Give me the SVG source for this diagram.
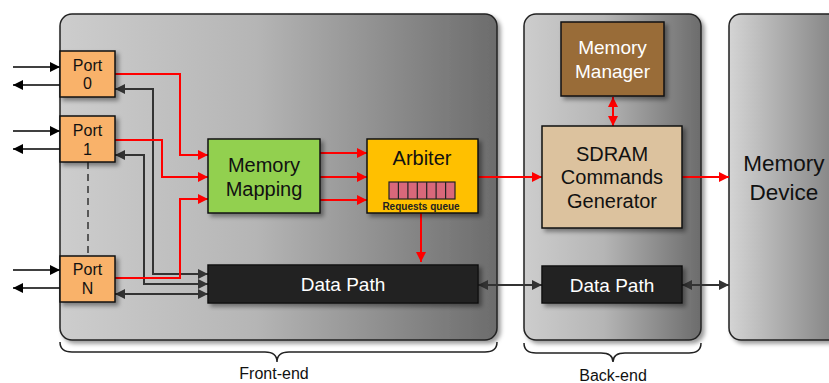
<svg xmlns="http://www.w3.org/2000/svg" width="829" height="383" viewBox="0 0 829 383">
<defs>
<linearGradient id="gp" x1="0" y1="0" x2="1" y2="0">
<stop offset="0" stop-color="#cdcdcd"/>
<stop offset="0.45" stop-color="#b5b5b5"/>
<stop offset="1" stop-color="#6c6c6c"/>
</linearGradient>
<linearGradient id="gd" x1="0" y1="0" x2="1" y2="0">
<stop offset="0" stop-color="#d4d4d4"/>
<stop offset="1" stop-color="#7a7a7a"/>
</linearGradient>
<filter id="sh" x="-20%" y="-20%" width="140%" height="140%">
<feDropShadow dx="3" dy="3" stdDeviation="2" flood-color="#000" flood-opacity="0.4"/>
</filter>
<marker id="ar" viewBox="0 0 10 10" refX="10" refY="5" markerWidth="10" markerHeight="10" markerUnits="userSpaceOnUse" orient="auto-start-reverse"><path d="M0,0 L10,5 L0,10 z" fill="#ff0000"/></marker>
<marker id="ad" viewBox="0 0 10 10" refX="10" refY="5" markerWidth="10" markerHeight="10" markerUnits="userSpaceOnUse" orient="auto-start-reverse"><path d="M0,0 L10,5 L0,10 z" fill="#333333"/></marker>
<marker id="ak" viewBox="0 0 10 10" refX="10" refY="5" markerWidth="10" markerHeight="10" markerUnits="userSpaceOnUse" orient="auto-start-reverse"><path d="M0,0 L10,5 L0,10 z" fill="#000000"/></marker>
</defs>
<style>
text{font-family:"Liberation Sans",Arial,sans-serif;text-anchor:middle;}
.panel{fill:url(#gp);stroke:#222;stroke-width:1.5;}
.box{stroke:#111;stroke-width:1.5;filter:url(#sh);}
.port{fill:#f9b26a;}
.t16{font-size:16px;fill:#111;}
.t20{font-size:20px;fill:#111;}
.w19{font-size:19px;fill:#fff;}
.red{fill:none;stroke:#ff0000;stroke-width:2;}
.dk{fill:none;stroke:#333;stroke-width:2;}
.blk{fill:none;stroke:#000;stroke-width:1.5;}
.brace{fill:none;stroke:#222;stroke-width:1.5;}
</style>
<g id="panels">
<rect id="front-end" class="panel" x="60" y="14" width="437" height="326" rx="12" filter="url(#sh)"/>
<rect id="back-end" class="panel" x="524" y="14" width="177" height="326" rx="12" filter="url(#sh)"/>
<rect id="memory-device-panel" x="729" y="14" width="120" height="326" rx="12" fill="url(#gd)" stroke="#222" stroke-width="1.5" filter="url(#sh)"/>
</g>
<g id="connectors">
<path class="blk" d="M13,67 H60" marker-end="url(#ak)"/>
<path class="blk" d="M60,85 H13" marker-end="url(#ak)"/>
<path class="blk" d="M13,131 H60" marker-end="url(#ak)"/>
<path class="blk" d="M60,149 H13" marker-end="url(#ak)"/>
<path class="blk" d="M13,270 H60" marker-end="url(#ak)"/>
<path class="blk" d="M60,288 H13" marker-end="url(#ak)"/>
<path d="M88,162 V256" fill="none" stroke="#333" stroke-width="1.5" stroke-dasharray="7,5"/>
<path class="dk" d="M115,89 H153 V274 H208" marker-start="url(#ad)" marker-end="url(#ad)"/>
<path class="dk" d="M115,155 H144 V284 H208" marker-start="url(#ad)" marker-end="url(#ad)"/>
<path class="dk" d="M115,294 H208" marker-start="url(#ad)" marker-end="url(#ad)"/>
<path class="red" d="M115,74 H180 V155 H208" marker-end="url(#ar)"/>
<path class="red" d="M115,140 H162 V177 H208" marker-end="url(#ar)"/>
<path class="red" d="M115,278 H180 V199 H208" marker-end="url(#ar)"/>
<path class="red" d="M320,153 H367" marker-end="url(#ar)"/>
<path class="red" d="M320,177 H367" marker-end="url(#ar)"/>
<path class="red" d="M320,200 H367" marker-end="url(#ar)"/>
<path class="red" d="M421,213 V262" marker-end="url(#ar)"/>
<path class="red" d="M478,177 H542" marker-end="url(#ar)"/>
<path class="red" d="M613,97 V126" marker-start="url(#ar)" marker-end="url(#ar)"/>
<path class="red" d="M682,177 H729" marker-end="url(#ar)"/>
<path class="dk" d="M478,285 H542" marker-start="url(#ad)" marker-end="url(#ad)"/>
<path class="dk" d="M682,285 H729" marker-start="url(#ad)" marker-end="url(#ad)"/>
</g>
<g id="port0">
<rect class="box port" x="60" y="51" width="55" height="46"/>
<text class="t16" x="87.5" y="71">Port</text>
<text class="t16" x="87.5" y="89">0</text>
</g>
<g id="port1">
<rect class="box port" x="60" y="116" width="55" height="46"/>
<text class="t16" x="87.5" y="136">Port</text>
<text class="t16" x="87.5" y="155">1</text>
</g>
<g id="portN">
<rect class="box port" x="60" y="256" width="55" height="46"/>
<text class="t16" x="87.5" y="275">Port</text>
<text class="t16" x="87.5" y="294">N</text>
</g>
<g id="memory-mapping">
<rect class="box" x="208" y="139" width="112" height="74" fill="#92d050"/>
<text class="t20" x="264" y="172">Memory</text>
<text class="t20" x="264" y="196">Mapping</text>
</g>
<g id="arbiter">
<rect class="box" x="367" y="139" width="111" height="74" fill="#ffc000"/>
<text class="t20" x="422" y="165">Arbiter</text>
<rect x="389" y="182" width="66" height="17" fill="#d9687a" stroke="#222" stroke-width="1.2"/>
<path d="M398.4,182 V199 M407.9,182 V199 M417.3,182 V199 M426.7,182 V199 M436.1,182 V199 M445.6,182 V199" stroke="#222" stroke-width="1.2"/>
<text x="421" y="210" style="font-size:10px;font-weight:bold;fill:#222">Requests queue</text>
</g>
<g id="data-path-front">
<rect class="box" x="208" y="265" width="270" height="38" fill="#222"/>
<text class="w19" x="343" y="291">Data Path</text>
</g>
<g id="memory-manager">
<rect class="box" x="561" y="22" width="103" height="74" fill="#996c38"/>
<text class="w19" x="612.5" y="54">Memory</text>
<text class="w19" x="612.5" y="78">Manager</text>
</g>
<g id="sdram">
<rect class="box" x="542" y="126" width="140" height="102" fill="#dcc29e"/>
<text class="t20" x="612" y="161">SDRAM</text>
<text class="t20" x="612" y="184">Commands</text>
<text class="t20" x="612" y="208">Generator</text>
</g>
<g id="data-path-back">
<rect class="box" x="542" y="266" width="140" height="37" fill="#222"/>
<text class="w19" x="612" y="292">Data Path</text>
</g>
<g id="memory-device">
<text x="784" y="171" style="font-size:22.5px;fill:#111">Memory</text>
<text x="784" y="200" style="font-size:22.5px;fill:#111">Device</text>
</g>
<g id="braces">
<path class="brace" d="M60,342 Q60,352 72,352 L265,352 Q277,352 277,362 Q277,352 289,352 L485,352 Q497,352 497,342"/>
<text x="274" y="379" style="font-size:16px;fill:#111">Front-end</text>
<path class="brace" d="M524,343 Q524,353 536,353 L601,353 Q613,353 613,362 Q613,353 625,353 L689,353 Q701,353 701,343"/>
<text x="613" y="381" style="font-size:16px;fill:#111">Back-end</text>
</g>
</svg>
